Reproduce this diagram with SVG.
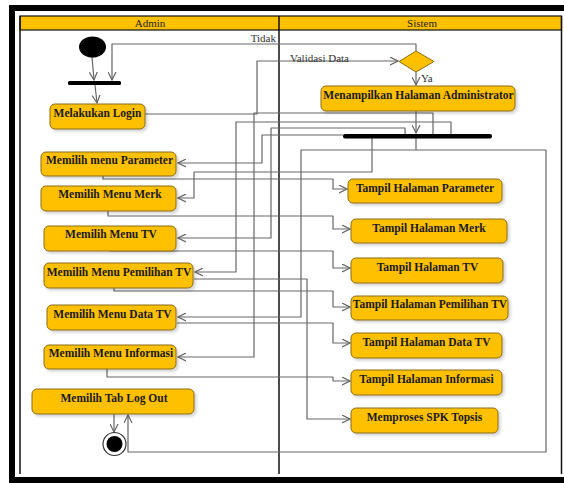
<svg xmlns="http://www.w3.org/2000/svg" width="564" height="483" viewBox="0 0 564 483">
<style>
.frame{fill:none;stroke:#000;stroke-width:6}
.lane{stroke:#111;stroke-width:1.5;fill:none}
.hdr{fill:#FFC000;stroke:#111;stroke-width:1.2}
.hdrt{font-family:"Liberation Serif","Times New Roman",serif;font-size:11px;fill:#222;text-anchor:middle}
.box{fill:#FFC000;stroke:#8a6c14;stroke-width:1;filter:url(#sh)}
.bt{font-family:"Liberation Serif","Times New Roman",serif;font-weight:bold;font-size:11.5px;fill:#1a1a1a;text-anchor:middle}
.lbl{font-family:"Liberation Serif","Times New Roman",serif;font-size:11px;fill:#333}
.c{fill:none;stroke:#666;stroke-width:1.2;stroke-linejoin:round}
.a{marker-end:url(#arr)}
</style>
<defs>
<marker id="arr" markerUnits="userSpaceOnUse" markerWidth="9" markerHeight="9" refX="8" refY="4.5" orient="auto">
<path d="M0,0.5 L8,4.5 L0,8.5" fill="none" stroke="#666" stroke-width="1.2"/>
</marker>
<filter id="sh" x="-10%" y="-20%" width="130%" height="160%">
<feDropShadow dx="2" dy="2" stdDeviation="1.5" flood-color="#000" flood-opacity="0.18"/>
</filter>
</defs>
<rect width="564" height="483" fill="#fff"/>
<rect class="frame" x="12" y="8" width="560" height="472"/>
<g id="lanes">
<rect class="hdr" x="20" y="16" width="541.5" height="14"/>
<line class="lane" x1="20" y1="16" x2="20" y2="474"/>
<line class="lane" x1="279" y1="16" x2="279" y2="474"/>
<line class="lane" x1="561.5" y1="16" x2="561.5" y2="474"/>
<text class="hdrt" x="150" y="27">Admin</text>
<text class="hdrt" x="422" y="27">Sistem</text>
</g>
<g id="connectors">
<path class="c a" d="M92,57 L94,80"/>
<path class="c a" d="M95,85 L97,103"/>
<path class="c a" d="M145,114 L257,114 L257,61 L398,61"/>
<path class="c a" d="M416,51 L416,44 L112,44 L112,80"/>
<path class="c a" d="M416,72 L416,85"/>
<path class="c a" d="M416,111 L416,133"/>
<path class="c a" d="M343,135 L262,135 L262,163 L178,163"/>
<path class="c a" d="M372,138 L372,172 L194,172 L194,198 L178,198"/>
<path class="c a" d="M405,134 L405,128 L271,128 L271,238 L178,238"/>
<path class="c a" d="M451,134 L451,122 L236,122 L236,272 L195,272"/>
<path class="c a" d="M416,138 L416,150 L301,150 L301,317 L178,317"/>
<path class="c a" d="M433,134 L433,113 L254,113 L254,357 L178,357"/>
<path class="c a" d="M416,150 L546,150 L546,452 L128,452 L128,415"/>
<path class="c a" d="M103,176 L103,179 L333,179 L333,189 L347,189"/>
<path class="c a" d="M108,211 L108,216 L333,216 L333,229 L350,229"/>
<path class="c a" d="M110,251 L333,251 L333,268 L350,268"/>
<path class="c a" d="M194,279 L307,279 L307,419 L350,419"/>
<path class="c a" d="M114,288 L114,291 L333,291 L333,307 L350,307"/>
<path class="c a" d="M177,323 L333,323 L333,343 L350,343"/>
<path class="c a" d="M107,369 L107,377 L333,377 L333,381 L350,381"/>
<path class="c a" d="M114,414 L114,432"/>
<text class="lbl" x="276" y="42" text-anchor="end">Tidak</text>
<text class="lbl" x="290" y="62">Validasi Data</text>
<text class="lbl" x="421" y="82">Ya</text>
</g>
<g id="start"><ellipse cx="92.5" cy="47" rx="13.5" ry="10.5" fill="#000"/></g>
<g id="fork1"><rect x="68" y="81" width="53" height="4" rx="1.5" fill="#000"/></g>
<g id="decision"><polygon points="416,51 434,61.5 416,72 399,61.5" fill="#FFC000" stroke="#8a6c14" stroke-width="1"/></g>
<g id="fork2"><rect x="343" y="134" width="149" height="4.5" rx="2" fill="#000"/></g>
<g id="login"><rect class="box" x="50" y="104" width="95" height="25" rx="5"/><text class="bt" x="97.5" y="117">Melakukan Login</text></g>
<g id="m-param"><rect class="box" x="41" y="152" width="135" height="24" rx="5"/><text class="bt" x="109.5" y="164">Memilih menu Parameter</text></g>
<g id="m-merk"><rect class="box" x="41" y="186" width="135" height="25" rx="5"/><text class="bt" x="110" y="198">Memilih Menu Merk</text></g>
<g id="m-tv"><rect class="box" x="44" y="226" width="132" height="25" rx="5"/><text class="bt" x="111" y="238">Memilih Menu TV</text></g>
<g id="m-pemilihan"><rect class="box" x="44" y="263" width="149" height="25" rx="5"/><text class="bt" x="119" y="276">Memilih Menu Pemilihan TV</text></g>
<g id="m-data"><rect class="box" x="47" y="305" width="129" height="25" rx="5"/><text class="bt" x="112.5" y="318">Memilih Menu Data TV</text></g>
<g id="m-info"><rect class="box" x="44" y="345" width="132" height="24" rx="5"/><text class="bt" x="111" y="357">Memilih Menu Informasi</text></g>
<g id="m-logout"><rect class="box" x="32" y="389" width="162" height="25" rx="5"/><text class="bt" x="114" y="402">Memilih Tab Log Out</text></g>
<g id="end"><circle cx="114.5" cy="444" r="11.5" fill="#fff" stroke="#333" stroke-width="1.2"/><circle cx="114.5" cy="444" r="8" fill="#000"/></g>
<g id="s-admin"><rect class="box" x="321" y="86" width="194" height="25" rx="5"/><text class="bt" x="418.5" y="99">Menampilkan Halaman Administrator</text></g>
<g id="t-param"><rect class="box" x="348" y="179" width="154" height="24" rx="5"/><text class="bt" x="425" y="192">Tampil Halaman Parameter</text></g>
<g id="t-merk"><rect class="box" x="351" y="219" width="156" height="24" rx="5"/><text class="bt" x="429" y="232">Tampil Halaman Merk</text></g>
<g id="t-tv"><rect class="box" x="351" y="258" width="152" height="25" rx="5"/><text class="bt" x="427.5" y="271">Tampil Halaman TV</text></g>
<g id="t-pemilihan"><rect class="box" x="351" y="296" width="157" height="24" rx="5"/><text class="bt" x="430" y="308">Tampil Halaman Pemilihan TV</text></g>
<g id="t-data"><rect class="box" x="351" y="333" width="151" height="25" rx="5"/><text class="bt" x="426.5" y="346">Tampil Halaman Data TV</text></g>
<g id="t-info"><rect class="box" x="351" y="370" width="151" height="25" rx="5"/><text class="bt" x="426.5" y="383">Tampil Halaman Informasi</text></g>
<g id="t-topsis"><rect class="box" x="351" y="408" width="147" height="25" rx="5"/><text class="bt" x="424.5" y="421">Memproses SPK Topsis</text></g>
</svg>
